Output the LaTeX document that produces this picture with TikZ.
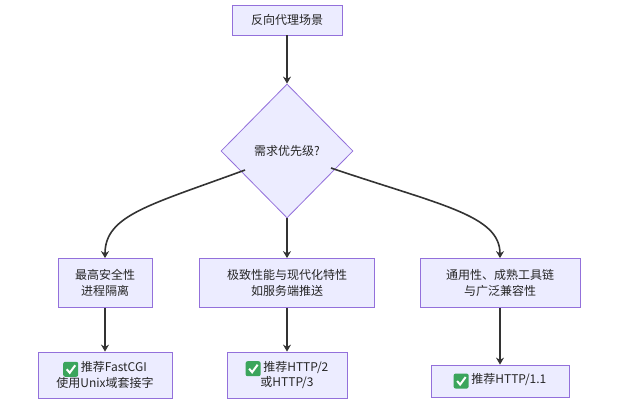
\documentclass[tikz,border=0pt]{standalone}
\usepackage{fontspec}
\setmainfont{Noto Sans CJK SC}
\usetikzlibrary{arrows.meta,shapes.geometric}
\definecolor{boxfill}{HTML}{ECECFF}
\definecolor{boxline}{HTML}{9370DB}
\definecolor{okgreen}{HTML}{3BA55C}
\tikzstyle{base} = [rectangle, draw=boxline, fill=boxfill, line width=0.8pt, align=center, font=\fontsize{12}{15.5}\selectfont, text=black!85]
\tikzstyle{decide} = [base, diamond, aspect=0.97, inner sep=1pt]
\tikzstyle{link} = [draw=black!80, line width=1.6pt, -{Stealth[length=7pt,width=8pt]}]
\newcommand{\okmark}{\tikz[baseline=-2pt]{\fill[okgreen,rounded corners=2pt] (-7.5pt,-7pt) rectangle (7.5pt,8pt);
  \draw[white,line width=2pt] (-4pt,0.5pt) -- (-1pt,-3pt) -- (4.5pt,4.5pt);}}
\begin{document}
\begin{tikzpicture}[x=1pt,y=-1pt]
    \useasboundingbox (0,0) rectangle (631,407);
    \node (scene) [base, minimum width=110pt, minimum height=30pt] at (287,20) {反向代理场景};
    \node (prio) [decide, minimum width=132pt, minimum height=134pt] at (287,151) {需求优先级?};
    \node (secure) [base, minimum width=94pt, minimum height=49pt] at (105,283) {最高安全性\\进程隔离};
    \node (perf) [base, minimum width=175pt, minimum height=49pt] at (287,283) {极致性能与现代化特性\\如服务端推送};
    \node (compat) [base, minimum width=160pt, minimum height=49pt] at (500,283) {通用性、成熟工具链\\与广泛兼容性};
    \node (fcgi) [base, minimum width=134pt, minimum height=46pt] at (105,375) {\okmark{} 推荐FastCGI\\使用Unix域套接字};
    \node (http2) [base, minimum width=120pt, minimum height=46pt] at (287,375) {\okmark{} 推荐HTTP/2\\或HTTP/3};
    \node (http1) [base, minimum width=138pt, minimum height=32pt] at (500,381) {\okmark{} 推荐HTTP/1.1};

    \coordinate (pl) at (245,170);
    \coordinate (pr) at (331,168);
    \draw[link] (scene) -- (prio);
    \draw[link] (pl) .. controls (150,205) and (105,215) .. (secure.north);
    \draw[link] (prio) -- (perf);
    \draw[link] (pr) .. controls (440,205) and (500,215) .. (compat.north);
    \draw[link] (secure) -- (fcgi);
    \draw[link] (perf) -- (http2);
    \draw[link] (compat) -- (http1);
\end{tikzpicture}
\end{document}
